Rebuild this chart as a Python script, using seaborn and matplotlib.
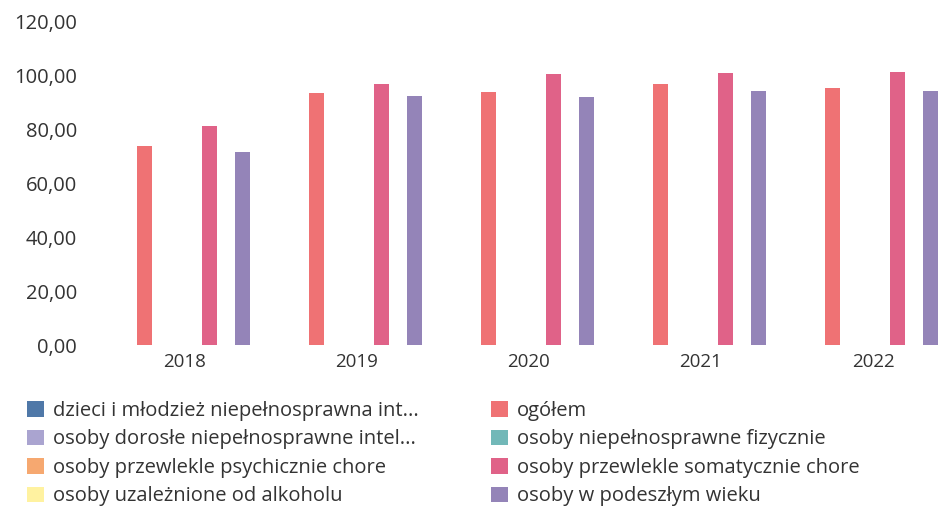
import numpy as np
import pandas as pd
import matplotlib
matplotlib.use("Agg")
import matplotlib.pyplot as plt
from matplotlib.patches import Patch
from matplotlib.ticker import FuncFormatter
import seaborn as sns

years = ["2018", "2019", "2020", "2021", "2022"]
series = [
    "dzieci i młodzież niepełnosprawna int...",
    "ogółem",
    "osoby dorosłe niepełnosprawne intel...",
    "osoby niepełnosprawne fizycznie",
    "osoby przewlekle psychicznie chore",
    "osoby przewlekle somatycznie chore",
    "osoby uzależnione od alkoholu",
    "osoby w podeszłym wieku",
]
nan = float("nan")
dzieci = [nan, nan, nan, nan, nan]
ogolem = [74.0, 93.7, 94.0, 97.0, 95.5]
dorosle = [nan, nan, nan, nan, nan]
fizycznie = [nan, nan, nan, nan, nan]
psychicznie = [nan, nan, nan, nan, nan]
somatycznie = [81.5, 97.0, 100.7, 101.0, 101.5]
uzaleznione = [nan, nan, nan, nan, nan]
podeszly = [71.7, 92.6, 92.2, 94.5, 94.2]
values = [dzieci, ogolem, dorosle, fizycznie, psychicznie, somatycznie, uzaleznione, podeszly]

colors = ["#4f78a8", "#ef7274", "#aaa4d0", "#72b8b8", "#f6a870", "#e06288", "#fff2a0", "#9484b8"]
palette = dict(zip(series, colors))

rows = []
for s, vals in zip(series, values):
    for y, v in zip(years, vals):
        rows.append({"rok": y, "seria": s, "wartosc": v})
df = pd.DataFrame(rows)

sns.set_style("white")
plt.rcParams["font.family"] = ["Open Sans", "DejaVu Sans"]
text_color = "#333333"

fig = plt.figure(figsize=(9.4, 5.15), dpi=100)
ax = fig.add_axes([99 / 940, (515 - 345) / 515, (940 - 99) / 940, 323 / 515])

sns.barplot(data=df, x="rok", y="wartosc", hue="seria", order=years,
            hue_order=series, palette=palette, width=0.76, gap=0.08,
            saturation=1, linewidth=0, errorbar=None, legend=False, ax=ax)

ax.set_ylim(0, 120)
ax.set_yticks(np.arange(0, 121, 20))
ax.yaxis.set_major_formatter(FuncFormatter(lambda v, p: f"{v:.2f}".replace(".", ",")))
ax.set_xlim(-0.5, (940 - 185) / 172)
ax.set_xlabel("")
ax.set_ylabel("")
for sp in ax.spines.values():
    sp.set_visible(False)
ax.tick_params(axis="both", length=0, colors=text_color)
ax.tick_params(axis="y", pad=16, labelsize=14.5)
ax.tick_params(axis="x", pad=6, labelsize=13.5)

left_items = [0, 2, 4, 6]
right_items = [1, 3, 5, 7]
for items, xpos in [(left_items, 27 / 940), (right_items, 491 / 940)]:
    handles = [Patch(facecolor=colors[i], edgecolor="none") for i in items]
    labels = [series[i] for i in items]
    leg = fig.legend(handles, labels, loc="upper left",
                     bbox_to_anchor=(xpos, 1 - 401 / 515), frameon=False,
                     fontsize=14.5, handlelength=0.85, handleheight=0.8,
                     handletextpad=0.45, labelspacing=0.42, borderpad=0,
                     borderaxespad=0)
    for t in leg.get_texts():
        t.set_color(text_color)

fig.savefig("out.png", dpi=100, facecolor="white")
